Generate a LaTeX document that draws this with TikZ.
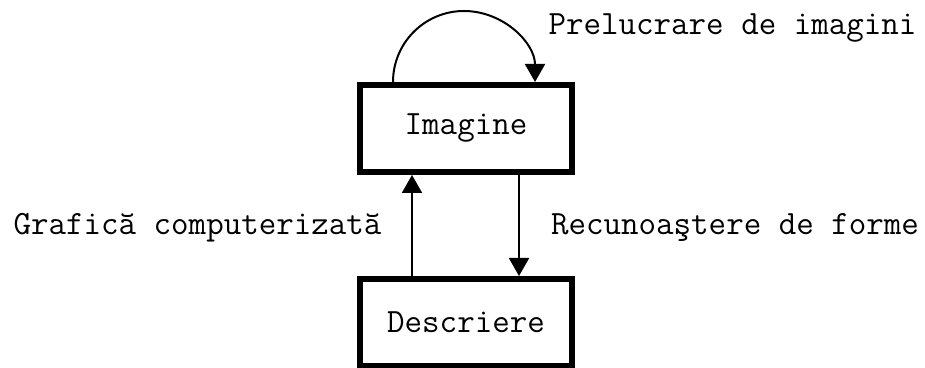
\documentclass[tikz,border=0pt]{standalone}
\usepackage{fontspec}
\usetikzlibrary{positioning, arrows.meta}

\begin{document}
\begin{tikzpicture}[
    x=0.5pt, y=-0.5pt,
    font=\ttfamily\fontsize{17pt}{19pt}\selectfont,
    stage/.style={
        rectangle,
        draw=black, line width=3pt,
        minimum width=106pt, minimum height=43.5pt,
        inner sep=0pt, align=center
    },
    flow/.style={-{Triangle[length=9pt, width=10pt]}, line width=1pt, draw=black},
    steplabel/.style={anchor=base, inner sep=0pt}
]
\useasboundingbox (0,0) rectangle (925,368);

% ============ Boxes ============
\node[stage] (img) at (466,128.5) {Imagine};
\node[stage, below=50.5pt of img] (desc) {Descriere};

% ============ Flow ============
\draw[flow] ([xshift=-36.5pt]img.north) arc[start angle=180, end angle=0, radius=35.5pt];
\draw[flow] ([xshift=26.5pt]img.south) -- ([xshift=26.5pt]desc.north);
\draw[flow] ([xshift=-27pt]desc.north) -- ([xshift=-27pt]img.south);

% ============ Labels ============
\node[steplabel] (proc) at (732.5,35) {Prelucrare de imagini};
\node[steplabel] (graf) at (197.5,235) {Grafică computerizată};
\node[steplabel] (recog) at (735,235) {Recunoaştere de forme};

\end{tikzpicture}
\end{document}
